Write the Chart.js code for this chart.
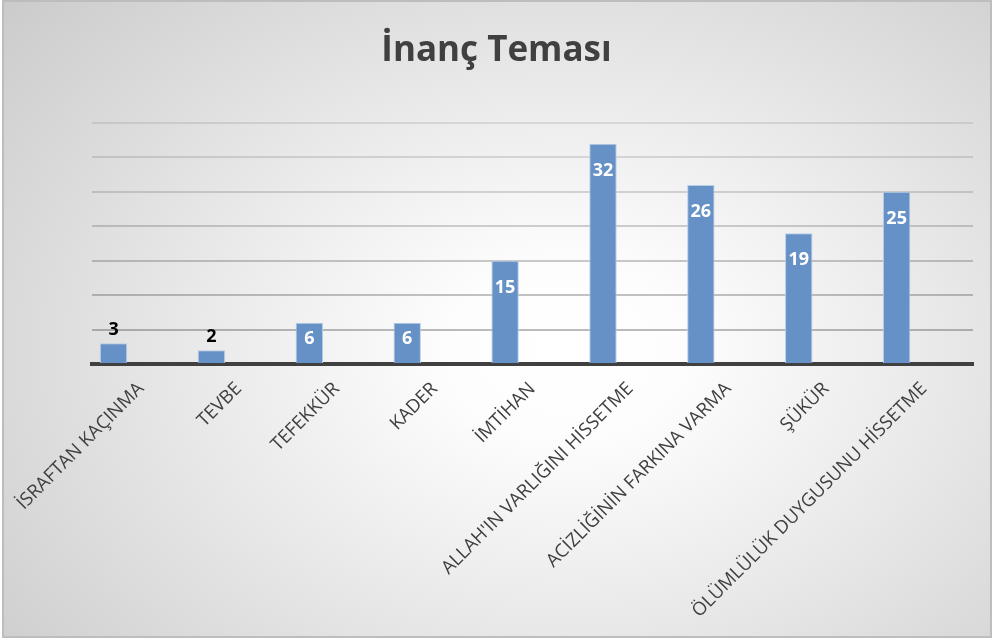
<!DOCTYPE html>
<html lang="tr">
<head>
  <meta charset="UTF-8" />
  <title>İnanç Teması</title>
  <script src="https://cdn.jsdelivr.net/npm/chart.js"></script>
  <style>
    html, body { margin: 0; padding: 0; overflow: hidden; background: #fff; }
    .frame {
      position: absolute; left: 2px; top: 0; width: 986px; height: 634px;
      border: 2px solid #bdbdbd;
      background: radial-gradient(ellipse 75% 85% at 57% 55%, #ffffff 0%, #fdfdfd 16%, #e8e8e8 52%, #cbcbcb 100%);
    }
    .chart-box { position: absolute; left: 0; top: 0; width: 993px; height: 639px; }
  </style>
</head>
<body>
  <div class="frame"></div>
  <div class="chart-box"><canvas id="inancChart"></canvas></div>

  <script>
    // kategoriler ve değerler
    const categories = [
      "İSRAFTAN KAÇINMA", "TEVBE", "TEFEKKÜR", "KADER", "İMTİHAN",
      "ALLAH'IN VARLIĞINI HİSSETME", "ACİZLİĞİNİN FARKINA VARMA", "ŞÜKÜR",
      "ÖLÜMLÜLÜK DUYGUSUNU HİSSETME"
    ];
    const values = [3, 2, 6, 6, 15, 32, 26, 19, 25];
    // grafikteki boş seriler (çubuklar kategori merkezinin solunda duruyor)
    const emptySeries2 = [null, null, null, null, null, null, null, null, null];
    const emptySeries3 = [null, null, null, null, null, null, null, null, null];
    const yMax = 35;
    const yStep = 5;

    const FONT = "'Open Sans', 'DejaVu Sans', sans-serif";

    // değer etiketleri
    const valueLabels = {
      id: "valueLabels",
      afterDatasetsDraw(chart) {
        const ctx = chart.ctx;
        const meta = chart.getDatasetMeta(0);
        ctx.save();
        ctx.font = "bold 18px " + FONT;
        ctx.textAlign = "center";
        ctx.textBaseline = "middle";
        meta.data.forEach((bar, i) => {
          const h = bar.base - bar.y;
          let y;
          if (h < 30) {
            ctx.fillStyle = "#000000";
            y = bar.y - 13;
          } else {
            ctx.fillStyle = "#ffffff";
            y = Math.min(bar.y + 27, (bar.y + bar.base) / 2 - 4);
          }
          ctx.fillText(String(values[i]), bar.x, y);
        });
        ctx.restore();
      }
    };

    new Chart(document.getElementById("inancChart").getContext("2d"), {
      type: "bar",
      data: {
        labels: categories,
        datasets: [
          {
            data: values,
            backgroundColor: "#6591c7",
            borderColor: "#b7cce6",
            borderWidth: 1,
            borderSkipped: "bottom"
          },
          { data: emptySeries2, backgroundColor: "#c0504d" },
          { data: emptySeries3, backgroundColor: "#9bbb59" }
        ]
      },
      options: {
        responsive: true,
        maintainAspectRatio: false,
        animation: false,
        layout: { padding: { top: 30, left: 20, right: 20, bottom: 0 } },
        datasets: { bar: { categoryPercentage: 0.84, barPercentage: 1.0 } },
        plugins: {
          legend: { display: false },
          tooltip: { enabled: false },
          title: {
            display: true,
            text: "İnanç Teması",
            color: "#404040",
            font: { family: FONT, size: 35, weight: "bold" },
            padding: { top: 0, bottom: 51 }
          }
        },
        scales: {
          x: {
            offset: true,
            grid: { display: false },
            border: { display: true, color: "#404040", width: 4 },
            ticks: {
              color: "#404040",
              font: { family: FONT, size: 18.5 },
              minRotation: 45,
              maxRotation: 45,
              autoSkip: false,
              padding: 6
            },
            afterFit(scale) { scale.height = 275; }
          },
          y: {
            min: 0,
            max: yMax,
            ticks: { display: false, stepSize: yStep },
            border: { display: false },
            grid: {
              drawTicks: false,
              lineWidth: 2,
              color: (c) => {
                if (c.tick.value === 0) return "rgba(0,0,0,0)";
                const a = 0.38 - (c.tick.value / yMax) * 0.26;
                return "rgba(60,60,60," + a.toFixed(3) + ")";
              }
            },
            afterFit(scale) { scale.width = 72; }
          }
        }
      },
      plugins: [valueLabels]
    });
  </script>
</body>
</html>
